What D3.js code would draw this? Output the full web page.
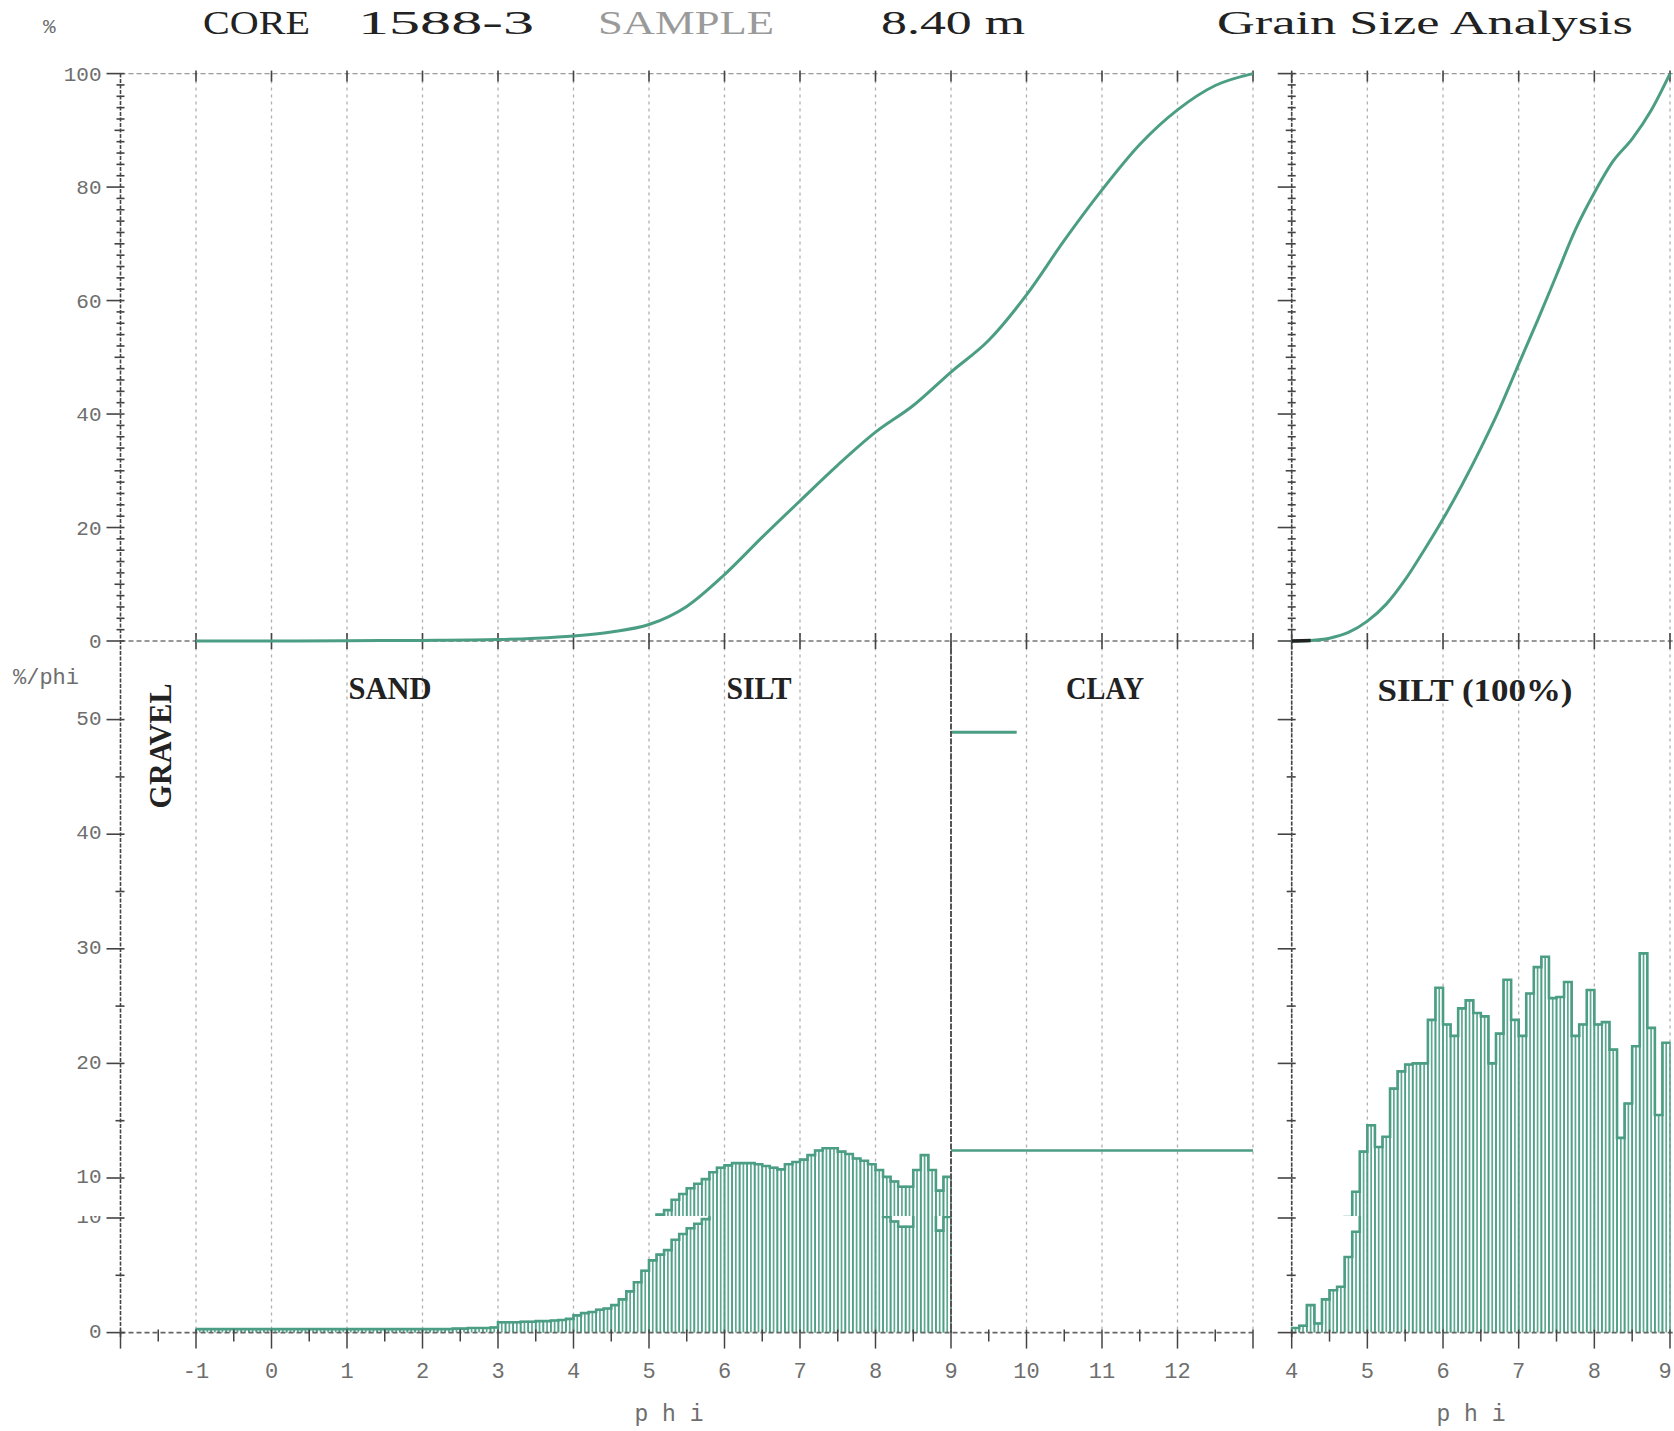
<!DOCTYPE html>
<html><head><meta charset="utf-8">
<script src="https://cdn.jsdelivr.net/npm/d3@7/dist/d3.min.js"></script>
<style>body{margin:0;background:#fff}svg{display:block}</style>
</head><body>
<svg id="c" width="1674" height="1431"></svg>
<script>
// ---------------- DATA ----------------
const titleParts = ["CORE", "1588-3", "SAMPLE", "8.40 m", "Grain Size Analysis"];
const phiTicksLeft = [-1,0,1,2,3,4,5,6,7,8,9,10,11,12];
const phiTicksRight = [4,5,6,7,8,9];
const cumTicks = [0,20,40,60,80,100];
const freqTicks = [0,10,20,30,40,50];
const sectionLabels = ["SAND","SILT","CLAY","SILT (100%)","GRAVEL"];

// cumulative curve, whole sample (phi, %)
const cumLeftPhi = [-1,0,1,2,3,3.5,4,4.5,5,5.5,6,6.5,7,7.5,8,8.5,9,9.5,10,10.5,11,11.5,12,12.5,13];
const cumLeftPct = [0,0,0.05,0.1,0.25,0.5,0.9,1.6,2.9,6.1,11.7,18.3,24.7,31,36.8,41.5,47.4,53,61,70.6,79.5,87.5,93.6,97.9,100];

// cumulative curve, silt fraction only (phi, %)
const cumRightPhi = [4,4.25,4.5,4.75,5,5.25,5.5,5.75,6,6.25,6.5,6.75,7,7.25,7.5,7.75,8,8.25,8.5,8.75,9];
const cumRightPct = [0,0.1,0.5,1.5,3.5,6.5,10.8,16,21.5,27.5,34,41,48.8,56.5,64.5,72.5,79,84.6,88.5,93.5,100];

// frequency histogram, whole sample (%/phi), 0.1 phi classes from phi -1
const binWidth = 0.1;
const histLeftStart = -1;
const histLeft = [
  0.3,0.3,0.3,0.3,0.3,0.3,0.3,0.3,0.3,0.3,
  0.3,0.3,0.3,0.3,0.3,0.3,0.3,0.3,0.3,0.3,
  0.3,0.3,0.3,0.3,0.3,0.3,0.3,0.3,0.3,0.3,
  0.3,0.3,0.3,0.3,0.35,0.35,0.4,0.4,0.4,0.45,
  0.9,0.9,0.9,0.95,0.95,1.0,1.0,1.05,1.1,1.2,
  1.5,1.7,1.8,2.0,2.1,2.4,2.9,3.6,4.4,5.4,
  6.3,6.8,7.2,8.1,8.6,9.1,9.5,9.9,10.5,10.9,
  11.1,11.3,11.3,11.3,11.2,11.05,10.9,10.75,11.2,11.4,
  11.6,12.0,12.4,12.6,12.6,12.3,12.1,11.7,11.5,11.2,
  10.7,10.1,9.7,9.24,9.24,10.7,12.0,10.7,8.9,10.1
];
// clay class (phi 9-13) and clay total marker
const clayRange = [9,13];
const clayFreq = 12.4;
const clayMarkRange = [9,9.87];
const clayMark = 48.9;

// frequency histogram, silt only (%/phi), 0.1 phi classes from phi 4
const histRightStart = 4;
const histRight = [
  0.4,0.6,2.4,0.8,2.9,3.7,4.0,6.6,8.8,12.3,
  14.6,12.7,13.6,17.8,19.3,19.9,20.0,20.0,23.8,26.6,
  23.4,22.4,24.8,25.5,24.4,24.1,20.0,22.6,27.3,23.8,
  22.4,26.1,28.4,29.3,25.7,25.8,27.1,22.4,23.4,26.4,
  23.4,23.6,21.2,13.5,16.5,21.5,29.6,23.1,15.5,21.8
];

// ---------------- DRAWING ----------------
const svg = d3.select('#c');
const teal = '#4b9e84';
const dark = '#444';
const gridCol = '#b0b0b0';
const labCol = '#6e6e6e';
const mono = "'Liberation Mono','DejaVu Sans Mono',monospace";
const serif = "'Liberation Serif','DejaVu Serif',serif";

const xL = d3.scaleLinear().domain([-2,13]).range([120.5,1253]);
const xR = d3.scaleLinear().domain([4,9]).range([1291.7,1670]);
const yC = d3.scaleLinear().domain([0,100]).range([641,73.6]);
// the scanned sheet has a duplicated strip: upper part and lower part of the
// frequency panel are offset by 40px
const yHTop = d3.scaleLinear().domain([0,50]).range([1292.6,719.6]);
const yHBot = d3.scaleLinear().domain([0,50]).range([1332.6,759.6]);
const seam = 1216;

const defs = svg.append('defs');
defs.append('clipPath').attr('id','clipTop').append('rect').attr('x',0).attr('y',600).attr('width',1674).attr('height',seam-600);
defs.append('clipPath').attr('id','clipBot').append('rect').attr('x',0).attr('y',seam).attr('width',1674).attr('height',1431-seam);

// title
const titleX = [[203,107],[358,176],[598,176],[881,144],[1217,416]];
svg.append('g').selectAll('text').data(titleParts).join('text')
  .attr('x',(d,i)=>titleX[i][0]).attr('y',34)
  .attr('textLength',(d,i)=>titleX[i][1]).attr('lengthAdjust','spacingAndGlyphs')
  .attr('font-family',serif).attr('font-size',34)
  .attr('fill',(d,i)=>i===2?'#9a9a9a':'#222').text(d=>d);

// axis titles
svg.append('text').attr('x',43).attr('y',33).attr('font-family',mono).attr('font-size',21).attr('fill',labCol).text('%');
svg.append('text').attr('x',13).attr('y',684).attr('font-family',mono).attr('font-size',22).attr('fill',labCol).text('%/phi');
svg.append('text').attr('x',669).attr('y',1421).attr('text-anchor','middle').attr('font-family',mono).attr('font-size',23).attr('fill',labCol).text('p h i');
svg.append('text').attr('x',1471).attr('y',1421).attr('text-anchor','middle').attr('font-family',mono).attr('font-size',23).attr('fill',labCol).text('p h i');

// gridlines
const grid = svg.append('g').attr('stroke',gridCol).attr('stroke-width',1.3).attr('stroke-dasharray','3,4');
grid.selectAll('.gl').data(phiTicksLeft.concat([13])).join('line').attr('class','gl')
  .attr('x1',d=>xL(d)).attr('x2',d=>xL(d)).attr('y1',yC(100)).attr('y2',yHBot(0));
grid.selectAll('.gr').data(phiTicksRight).join('line').attr('class','gr')
  .attr('x1',d=>xR(d)).attr('x2',d=>xR(d)).attr('y1',yC(100)).attr('y2',yHBot(0));

// y axes lines
[xL(-2), xR(4)].forEach(x=>{
  svg.append('line').attr('x1',x).attr('x2',x).attr('y1',yC(100)).attr('y2',yHBot(0)+6)
    .attr('stroke',dark).attr('stroke-width',1.6).attr('stroke-dasharray','4,1.5');
});

// horizontal frame lines of cumulative panels
function hLine(x1,x2,y,col){
  svg.append('line').attr('x1',x1).attr('x2',x2).attr('y1',y).attr('y2',y)
    .attr('stroke',col).attr('stroke-width',1.4).attr('stroke-dasharray','5,3');
}
hLine(xL(-2),xL(13),yC(100),'#999'); hLine(xL(-2),xL(13),yC(0),'#777');
hLine(xR(4),1674,yC(100),'#999'); hLine(xR(4),1674,yC(0),'#777');

// integer ticks on cumulative panel x frame
function phiCross(scale, ticks, y, up, down){
  svg.append('g').selectAll('line').data(ticks).join('line')
    .attr('x1',d=>scale(d)).attr('x2',d=>scale(d)).attr('y1',y-up).attr('y2',y+down)
    .attr('stroke',dark).attr('stroke-width',1.6);
}
phiCross(xL, phiTicksLeft.concat([13]), yC(0), 8, 8);
phiCross(xL, phiTicksLeft.concat([13]), yC(100), 3, 8);
phiCross(xR, phiTicksRight, yC(0), 8, 8);
phiCross(xR, phiTicksRight, yC(100), 3, 8);

// cumulative y ticks
function cumTicksAt(x, labels){
  const g = svg.append('g');
  const minor = d3.range(0,101,2);
  g.selectAll('line').data(minor).join('line')
    .attr('x1',d=>x-(d%20===0?14:(d%10===0?6:4))).attr('x2',x+4)
    .attr('y1',d=>yC(d)).attr('y2',d=>yC(d)).attr('stroke',dark).attr('stroke-width',1.6);
  if(labels) g.selectAll('text').data(cumTicks).join('text')
    .attr('x',x-19).attr('y',d=>yC(d)).attr('dy','0.35em').attr('text-anchor','end')
    .attr('font-family',mono).attr('font-size',21).attr('fill',labCol).text(d=>d);
}
cumTicksAt(xL(-2), true);
cumTicksAt(xR(4), false);

// cumulative curves
const cLine = sc => d3.line().x(d=>sc(d[0])).y(d=>yC(d[1])).curve(d3.curveMonotoneX);
svg.append('path').datum(cumLeftPhi.map((p,i)=>[p,cumLeftPct[i]]))
  .attr('d',cLine(xL)).attr('fill','none').attr('stroke',teal).attr('stroke-width',3);
const rightPts = cumRightPhi.map((p,i)=>[p,cumRightPct[i]]);
svg.append('path').datum(rightPts)
  .attr('d',cLine(xR)).attr('fill','none').attr('stroke',teal).attr('stroke-width',3);
svg.append('path').datum(rightPts.filter(d=>d[0]<=4.25))
  .attr('d',cLine(xR)).attr('fill','none').attr('stroke','#222').attr('stroke-width',3.5);

// frequency panel content, drawn through a given y scale
function drawFreq(g, y, labelFilter, xLabels){
  function hist(x, start, vals){
    const bins = vals.map((v,i)=>({x0:start+i*binWidth, x1:start+(i+1)*binWidth, v}));
    g.append('g').selectAll('path').data(bins).join('path')
      .attr('d',d=>{const a=x(d.x0), b=x(d.x1), m=(a+b)/2;
        return `M${a},${y(0)}V${y(d.v)}H${b}V${y(0)}M${m},${y(0)}V${y(d.v)}`;})
      .attr('fill','none').attr('stroke',teal).attr('stroke-width',1.7).attr('stroke-opacity',0.9);
    const pts = bins.map(d=>[d.x0,d.v]).concat([[bins[bins.length-1].x1, bins[bins.length-1].v]]);
    g.append('path').datum(pts)
      .attr('d',d3.line().x(d=>x(d[0])).y(d=>y(d[1])).curve(d3.curveStepAfter))
      .attr('fill','none').attr('stroke',teal).attr('stroke-width',2.6);
  }
  hist(xL, histLeftStart, histLeft);
  hist(xR, histRightStart, histRight);
  // clay
  g.append('line').attr('x1',xL(clayRange[0])).attr('x2',xL(clayRange[1]))
    .attr('y1',y(clayFreq)).attr('y2',y(clayFreq)).attr('stroke',teal).attr('stroke-width',2.4);
  g.append('line').attr('x1',xL(clayMarkRange[0])).attr('x2',xL(clayMarkRange[1]))
    .attr('y1',y(clayMark)).attr('y2',y(clayMark)).attr('stroke',teal).attr('stroke-width',3);
  // silt/clay boundary
  g.append('line').attr('x1',xL(9)).attr('x2',xL(9)).attr('y1',yC(0)).attr('y2',y(0))
    .attr('stroke','#555').attr('stroke-width',2).attr('stroke-dasharray','6,1.5');
  // baseline
  [[xL(-2),xL(13)],[xR(4),1674]].forEach(r=>{
    g.append('line').attr('x1',r[0]).attr('x2',r[1]).attr('y1',y(0)).attr('y2',y(0))
      .attr('stroke','#666').attr('stroke-width',1.6).attr('stroke-dasharray','5,3');
  });
  // y ticks
  const minor = d3.range(0,51,5);
  [xL(-2), xR(4)].forEach((x,k)=>{
    g.append('g').selectAll('line').data(minor).join('line')
      .attr('x1',d=>x-(d%10===0?14:5)).attr('x2',x+4)
      .attr('y1',d=>y(d)).attr('y2',d=>y(d)).attr('stroke',dark).attr('stroke-width',1.6);
    if(k===0) g.append('g').selectAll('text').data(freqTicks.filter(v=>labelFilter(y(v)))).join('text')
      .attr('x',x-19).attr('y',d=>y(d)).attr('dy','0.25em').attr('text-anchor','end')
      .attr('font-family',mono).attr('font-size',21).attr('fill',labCol).text(d=>d);
  });
  // x ticks on baseline
  const halfL = d3.range(-2,13.01,0.5), halfR = d3.range(4,9.01,0.5);
  [[xL,halfL],[xR,halfR]].forEach(([x,h])=>{
    g.append('g').selectAll('line').data(h).join('line')
      .attr('x1',d=>x(d)).attr('x2',d=>x(d)).attr('y1',y(0)-3)
      .attr('y2',d=>y(0)+(Number.isInteger(d)?16:9)).attr('stroke',dark).attr('stroke-width',1.5);
  });
  if(!xLabels) return;
  // x labels
  g.append('g').selectAll('text').data(phiTicksLeft).join('text')
    .attr('x',d=>xL(d)).attr('y',y(0)+45).attr('text-anchor','middle')
    .attr('font-family',mono).attr('font-size',22).attr('fill',labCol).text(d=>d);
  g.append('g').selectAll('text').data(phiTicksRight).join('text')
    .attr('x',(d,i)=>xR(d)-(i===phiTicksRight.length-1?5:0)).attr('y',y(0)+45).attr('text-anchor','middle')
    .attr('font-family',mono).attr('font-size',22).attr('fill',labCol).text(d=>d);
}
drawFreq(svg.append('g').attr('clip-path','url(#clipTop)'), yHTop, yy=>yy<seam-8, false);
drawFreq(svg.append('g').attr('clip-path','url(#clipBot)'), yHBot, yy=>yy>seam-10, true);

// fraction labels
const secPos = [[390,699,83],[759,699,65],[1105,699,78],[1475,701,195]];
svg.append('g').selectAll('text').data(sectionLabels.slice(0,4)).join('text')
  .attr('x',(d,i)=>secPos[i][0]).attr('y',(d,i)=>secPos[i][1]).attr('text-anchor','middle')
  .attr('textLength',(d,i)=>secPos[i][2]).attr('lengthAdjust','spacingAndGlyphs')
  .attr('font-family',serif).attr('font-weight','bold').attr('font-size',32).attr('fill','#222').text(d=>d);
svg.append('text').attr('transform','translate(171,746) rotate(-90)').attr('text-anchor','middle')
  .attr('textLength',125).attr('lengthAdjust','spacingAndGlyphs')
  .attr('font-family',serif).attr('font-weight','bold').attr('font-size',32).attr('fill','#222').text(sectionLabels[4]);
</script>
</body></html>
